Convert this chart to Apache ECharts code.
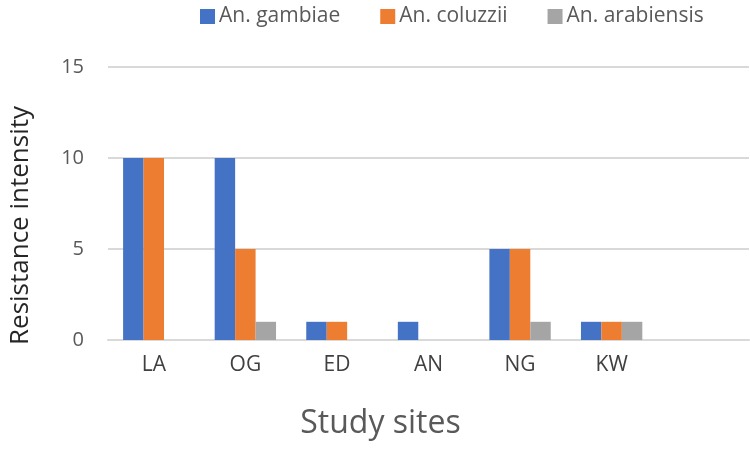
<!DOCTYPE html>
<html>
<head>
<meta charset="utf-8">
<script src="https://cdn.jsdelivr.net/npm/echarts@6/dist/echarts.min.js"></script>
<style>html,body{margin:0;padding:0;background:#fff}#c{width:750px;height:454px}</style>
</head>
<body>
<div id="c"></div>
<script>
const categories = ['LA', 'OG', 'ED', 'AN', 'NG', 'KW', ''];
const gambiae = [10, 10, 1, 1, 5, 1, null];
const coluzzii = [10, 5, 1, 0, 5, 1, null];
const arabiensis = [0, 1, 0, 0, 1, 1, null];
const seriesNames = ['An. gambiae', 'An. coluzzii', 'An. arabiensis'];
const yTicks = {min: 0, max: 15, interval: 5};

const FONT = 'Open Sans';
const chart = echarts.init(document.getElementById('c'));
chart.setOption({
  animation: false,
  color: ['#4472C4', '#ED7D31', '#A5A5A5'],
  textStyle: {fontFamily: FONT},
  legend: {
    top: 1, left: 195,
    itemWidth: 15, itemHeight: 15, itemGap: 40,
    icon: 'rect',
    textStyle: {fontFamily: FONT, fontSize: 21, color: '#595959', padding: [0, 0, 0, -1]},
    data: seriesNames
  },
  grid: {left: 104, right: 1, top: 67, bottom: 114, containLabel: false},
  xAxis: {
    type: 'category',
    data: categories,
    axisTick: {show: false},
    axisLine: {lineStyle: {color: '#d9d9d9', width: 2}},
    axisLabel: {fontFamily: FONT, fontSize: 21, color: '#404040', margin: 15, interval: 0},
    name: 'Study sites',
    nameLocation: 'middle',
    nameGap: 68,
    nameTextStyle: {fontFamily: FONT, fontSize: 32, color: '#595959', padding: [0, 96, 0, 0]}
  },
  yAxis: {
    type: 'value',
    min: yTicks.min, max: yTicks.max, interval: yTicks.interval,
    axisLine: {show: false},
    axisTick: {show: false},
    splitLine: {lineStyle: {color: '#d9d9d9', width: 2}},
    axisLabel: {fontFamily: FONT, fontSize: 20, color: '#595959', margin: 24},
    name: 'Resistance intensity',
    nameLocation: 'middle',
    nameGap: 74,
    nameTextStyle: {fontFamily: FONT, fontSize: 26, color: '#262626', padding: [0, 44, 0, 0]}
  },
  series: [
    {name: seriesNames[0], type: 'bar', data: gambiae, barGap: '0%', barCategoryGap: '33%'},
    {name: seriesNames[1], type: 'bar', data: coluzzii, barGap: '0%', barCategoryGap: '33%'},
    {name: seriesNames[2], type: 'bar', data: arabiensis, barGap: '0%', barCategoryGap: '33%'}
  ]
});
</script>
</body>
</html>
